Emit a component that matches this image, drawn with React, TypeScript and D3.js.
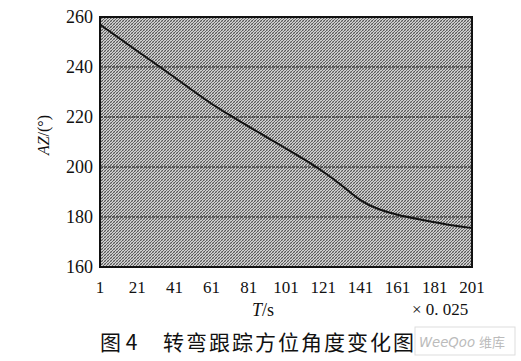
import React from "react";
import * as d3 from "d3";

const timeSteps = [1, 11, 21, 31, 41, 51, 61, 71, 81, 91, 101, 111, 121, 131, 141, 151, 161, 171, 181, 191, 201];
const azimuth = [257, 251.7, 246.4, 241.2, 235.9, 230.5, 225.2, 220.6, 216.1, 211.8, 207.4, 203, 198.2, 192.8, 186.2, 182.9, 180.8, 179.3, 177.9, 176.5, 175.6];
const xTicks = [1, 21, 41, 61, 81, 101, 121, 141, 161, 181, 201];
const yTicks = [160, 180, 200, 220, 240, 260];
const gridValues = [180, 200, 220, 240];

const W = 521;
const H = 361;
const plot = { left: 100, right: 472, top: 17, bottom: 267 };

export default function App() {
  const x = d3.scaleLinear().domain([1, 201]).range([plot.left, plot.right]);
  const y = d3.scaleLinear().domain([160, 260]).range([plot.bottom, plot.top]);
  const pts: [number, number][] = timeSteps.map((t, i) => [t, azimuth[i]]);
  const line = d3
    .line<[number, number]>()
    .x((d) => x(d[0]))
    .y((d) => y(d[1]))
    .curve(d3.curveBasis);

  const serif = "'Liberation Serif', 'DejaVu Serif', serif";

  return (
    <svg width={W} height={H} style={{ position: "absolute", left: 0, top: 0, background: "#fff" }}>
      <defs>
        <pattern id="hatch" width="3" height="3" patternUnits="userSpaceOnUse">
          <rect width="3" height="3" fill="#d0d0d0" />
          <path d="M0,3 L3,0 M-1,1 L1,-1 M2,4 L4,2" stroke="#4a4a4a" strokeWidth="0.9" />
          <path d="M0,0 L3,3" stroke="#7a7a7a" strokeWidth="0.5" />
        </pattern>
      </defs>
      <rect
        x={plot.left}
        y={plot.top}
        width={plot.right - plot.left}
        height={plot.bottom - plot.top}
        fill="url(#hatch)"
      />
      {gridValues.map((v) => (
        <line
          key={v}
          x1={plot.left}
          x2={plot.right}
          y1={y(v)}
          y2={y(v)}
          stroke="#1a1a1a"
          strokeWidth={1.2}
          strokeDasharray="3 1"
        />
      ))}
      <path d={line(pts) || ""} fill="none" stroke="#111" strokeWidth={2} />
      <rect
        x={plot.left}
        y={plot.top}
        width={plot.right - plot.left}
        height={plot.bottom - plot.top}
        fill="none"
        stroke="#111"
        strokeWidth={2}
      />
      {yTicks.map((v) => (
        <text
          key={v}
          x={plot.left - 7}
          y={y(v) + 6}
          textAnchor="end"
          fontFamily={serif}
          fontSize={18}
          fill="#111"
        >
          {v}
        </text>
      ))}
      {xTicks.map((v) => (
        <text
          key={v}
          x={x(v)}
          y={293}
          textAnchor="middle"
          fontFamily={serif}
          fontSize={17}
          fill="#111"
        >
          {v}
        </text>
      ))}
      <text
        transform="translate(49,135) rotate(-90)"
        textAnchor="middle"
        fontFamily={serif}
        fontSize={16}
        fill="#111"
      >
        <tspan fontStyle="italic">AZ</tspan>/(°)
      </text>
      <text x={263} y={316} textAnchor="middle" fontFamily={serif} fontSize={18} fill="#111">
        <tspan fontStyle="italic">T</tspan>/s
      </text>
      <text x={412} y={315} fontFamily={serif} fontSize={17} fill="#111">
        × 0. 025
      </text>
      <text
        x={100}
        y={350}
        fontFamily="'Noto Sans CJK SC', sans-serif"
        fontSize={21}
        fontWeight={400}
        fill="#111"
      >
        图 4
      </text>
      <text
        x={163}
        y={350}
        fontFamily="'Noto Sans CJK SC', sans-serif"
        fontSize={21}
        fontWeight={400}
        letterSpacing={2}
        fill="#111"
      >
        转弯跟踪方位角度变化图
      </text>
      <rect x={415} y={327} width={100} height={28} fill="#fff" stroke="#ddd" strokeWidth={1} />
      <text
        x={419}
        y={347}
        fontFamily="'DejaVu Sans', sans-serif"
        fontSize={14}
        fontStyle="italic"
        textLength={56}
        lengthAdjust="spacingAndGlyphs"
        fill="#bbb"
      >
        WeeQoo
      </text>
      <text x={479} y={347} fontFamily="'Noto Sans CJK SC', sans-serif" fontSize={13} fill="#bbb">
        维库
      </text>
    </svg>
  );
}
